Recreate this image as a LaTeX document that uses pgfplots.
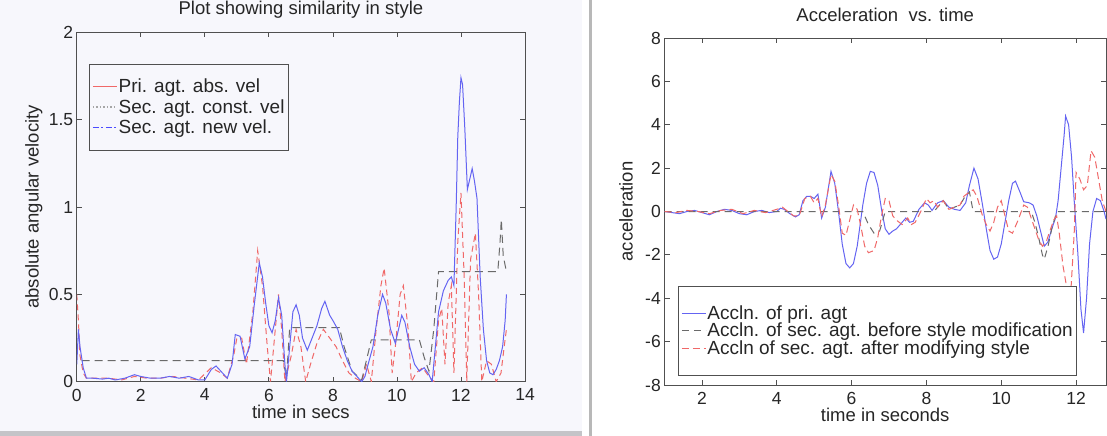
\documentclass[border=0pt]{standalone}
\usepackage{fontspec}
\setmainfont{Liberation Sans}
\usepackage{pgfplots}
\pgfplotsset{compat=1.18}
\definecolor{bgL}{HTML}{F7F7FC}
\definecolor{bandgray}{HTML}{C4C4C8}
\definecolor{divgray}{HTML}{B8B8B8}
\definecolor{axgray}{HTML}{505050}
\definecolor{bluel}{HTML}{6464F2}
\definecolor{redl}{HTML}{F06868}
\definecolor{grayl}{HTML}{6A6A6A}

\pgfplotstableread{
t v
0.00 0.10
0.05 0.30
0.10 0.20
0.20 0.08
0.30 0.02
0.50 0.02
0.80 0.015
1.00 0.02
1.20 0.01
1.50 0.02
1.80 0.04
2.00 0.03
2.30 0.02
2.60 0.02
2.90 0.03
3.20 0.02
3.50 0.03
3.80 0.01
4.00 0.01
4.20 0.07
4.35 0.09
4.50 0.06
4.70 0.02
4.85 0.10
4.95 0.27
5.10 0.26
5.25 0.13
5.40 0.20
5.55 0.45
5.70 0.68
5.80 0.60
5.90 0.45
6.00 0.32
6.10 0.28
6.20 0.35
6.30 0.48
6.40 0.38
6.50 0.10
6.55 0.00
6.65 0.20
6.75 0.40
6.85 0.44
6.95 0.38
7.05 0.25
7.20 0.18
7.35 0.25
7.50 0.32
7.65 0.42
7.75 0.46
7.90 0.38
8.00 0.35
8.15 0.30
8.30 0.20
8.45 0.12
8.60 0.06
8.75 0.03
8.90 0.00
9.00 0.03
9.10 0.10
9.25 0.20
9.40 0.38
9.55 0.50
9.65 0.45
9.80 0.30
9.95 0.22
10.05 0.30
10.15 0.38
10.25 0.34
10.40 0.20
10.55 0.10
10.70 0.06
10.85 0.08
11.00 0.04
11.10 0.00
11.20 0.20
11.30 0.40
11.45 0.52
11.60 0.58
11.70 0.60
11.78 0.55
11.85 1.00
11.90 1.40
11.95 1.60
12.00 1.74
12.05 1.70
12.12 1.45
12.20 1.10
12.30 1.18
12.35 1.22
12.42 1.15
12.50 1.05
12.60 0.60
12.70 0.30
12.80 0.12
12.90 0.05
13.00 0.04
13.10 0.07
13.20 0.12
13.30 0.20
13.38 0.35
13.42 0.50
}\velblue

\pgfplotstableread{
t v
0.00 0.50
0.05 0.35
0.10 0.15
0.20 0.05
0.30 0.02
0.60 0.02
1.00 0.02
1.40 0.01
1.80 0.03
2.20 0.02
2.60 0.02
3.00 0.03
3.40 0.02
3.80 0.01
4.20 0.08
4.50 0.05
4.70 0.02
4.90 0.15
5.00 0.25
5.15 0.25
5.30 0.10
5.50 0.40
5.65 0.75
5.80 0.55
5.95 0.20
6.05 0.00
6.15 0.20
6.30 0.50
6.40 0.30
6.50 0.00
6.70 0.15
6.85 0.30
7.00 0.20
7.15 0.00
7.30 0.10
7.50 0.22
7.70 0.30
7.90 0.25
8.10 0.20
8.30 0.12
8.50 0.05
8.70 0.02
8.90 0.00
9.05 0.10
9.20 0.00
9.35 0.30
9.50 0.55
9.60 0.65
9.75 0.40
9.85 0.05
9.95 0.20
10.10 0.50
10.20 0.55
10.35 0.30
10.45 0.00
10.60 0.05
10.80 0.08
11.00 0.03
11.15 0.00
11.30 0.35
11.40 0.42
11.50 0.10
11.60 0.45
11.70 0.55
11.78 0.05
11.90 0.80
12.00 1.08
12.10 0.60
12.18 0.00
12.30 0.70
12.45 0.85
12.55 0.50
12.65 0.00
12.80 0.12
12.95 0.10
13.10 0.00
13.25 0.05
13.35 0.20
13.42 0.30
}\velred

\pgfplotstableread{
t v
0.15 0.12
6.45 0.12
6.55 0.02
6.65 0.31
8.20 0.31
8.35 0.20
8.60 0.06
8.90 0.01
9.20 0.24
10.70 0.24
10.85 0.14
11.00 0.06
11.15 0.30
11.30 0.63
13.15 0.63
13.22 0.80
13.26 0.93
13.32 0.72
13.42 0.63
}\velconst

\pgfplotstableread{
t v
1.00 0.00
1.20 -0.05
1.40 -0.10
1.60 0.00
1.80 0.05
2.00 -0.05
2.20 -0.15
2.40 0.00
2.60 0.10
2.80 0.05
3.00 -0.10
3.20 -0.15
3.40 0.00
3.60 0.05
3.80 -0.05
4.00 0.00
4.10 0.15
4.20 0.10
4.35 -0.10
4.50 -0.25
4.60 -0.15
4.70 0.50
4.80 0.70
4.90 0.70
5.00 0.60
5.10 0.80
5.20 -0.30
5.30 0.20
5.45 1.85
5.55 1.30
5.65 0.00
5.75 -1.50
5.85 -2.40
5.95 -2.60
6.05 -2.40
6.15 -1.60
6.30 0.30
6.40 1.30
6.50 1.85
6.60 1.80
6.70 1.20
6.80 0.10
6.90 -0.80
7.00 -1.05
7.10 -0.90
7.20 -0.80
7.35 -0.50
7.45 -0.30
7.55 -0.50
7.65 -0.45
7.80 0.10
7.95 0.40
8.05 0.30
8.15 0.05
8.30 0.40
8.45 0.50
8.60 0.20
8.75 0.10
8.90 0.05
9.05 0.40
9.15 1.20
9.27 2.00
9.38 1.50
9.50 0.30
9.60 -0.80
9.70 -1.80
9.80 -2.20
9.90 -2.10
10.00 -1.50
10.10 -0.50
10.20 0.50
10.30 1.30
10.38 1.40
10.50 0.90
10.60 0.45
10.75 0.40
10.85 0.30
10.95 -0.20
11.05 -0.90
11.15 -1.60
11.25 -1.40
11.35 -0.80
11.45 -0.30
11.52 0.50
11.60 2.00
11.68 3.50
11.72 4.40
11.80 4.00
11.88 2.50
11.95 0.50
12.05 -2.00
12.13 -4.50
12.20 -5.60
12.28 -4.00
12.36 -1.50
12.45 0.00
12.55 0.60
12.65 0.50
12.75 0.00
12.80 -0.35
}\accblue

\pgfplotstableread{
t v
1.00 0.00
1.30 -0.05
1.60 0.05
1.90 0.00
2.20 -0.10
2.50 0.05
2.80 0.10
3.10 -0.10
3.40 0.05
3.70 -0.05
4.00 0.10
4.15 0.20
4.30 0.00
4.45 -0.20
4.60 -0.20
4.75 0.60
4.90 0.70
5.00 0.40
5.10 0.60
5.20 -0.25
5.30 0.30
5.45 1.70
5.55 1.40
5.65 0.30
5.75 -1.00
5.85 -1.10
5.95 -0.40
6.05 0.30
6.15 0.10
6.25 -0.70
6.35 -1.60
6.45 -1.90
6.60 -1.80
6.70 -1.20
6.80 -0.20
6.90 0.60
7.00 0.50
7.10 -0.20
7.20 -0.40
7.35 -0.60
7.50 -0.30
7.60 -0.60
7.70 -0.50
7.85 0.00
8.00 0.60
8.10 0.40
8.20 0.50
8.30 0.20
8.45 0.50
8.60 0.10
8.75 0.20
8.90 0.30
9.00 0.70
9.15 0.90
9.25 1.00
9.35 0.70
9.50 -0.20
9.60 -0.60
9.70 -0.90
9.80 -0.50
9.90 0.20
10.00 0.50
10.10 -0.20
10.20 -0.90
10.30 -1.00
10.45 -0.40
10.60 0.30
10.70 0.20
10.80 -0.30
10.90 -0.80
11.00 -1.30
11.10 -1.60
11.20 -1.40
11.30 -0.90
11.40 -0.40
11.48 -0.20
11.55 -1.00
11.65 -2.50
11.75 -3.50
11.85 -4.00
11.95 -1.00
12.00 1.80
12.10 1.50
12.20 1.00
12.30 1.20
12.40 2.80
12.50 2.50
12.60 1.50
12.70 0.50
12.80 0.00
}\accred

\pgfplotstableread{
t v
1.00 0.00
6.30 0.00
6.45 -0.60
6.60 -1.00
6.75 -0.90
6.90 0.00
8.20 0.00
8.30 0.20
8.45 0.50
8.60 0.10
8.75 0.20
8.90 0.30
9.00 0.60
9.15 0.90
9.25 0.00
10.80 0.00
10.90 -0.50
11.00 -1.20
11.10 -2.00
11.15 -2.20
11.25 -1.60
11.35 -0.80
11.45 -0.20
11.50 0.00
12.80 0.00
}\accgray

\pgfplotsset{
  matlab/.style={
    scale only axis,
    anchor=south west,
    axis line style={axgray, line width=0.8bp},
    every tick/.style={axgray, line width=0.8bp},
    major tick length=5bp,
    tick align=inside,
    xticklabel pos=bottom, yticklabel pos=left,
    xtick pos=both, ytick pos=both,
    /pgf/number format/assume math mode=true,
    tick label style={font=\fontsize{17.5bp}{20bp}\selectfont, text=black!85},
    xticklabel style={inner ysep=7bp},
    yticklabel style={inner xsep=3.5bp},
    label style={font=\fontsize{18.5bp}{21bp}\selectfont, text=black!85},
    every axis title shift=0pt,
    title style={font=\fontsize{18.5bp}{21bp}\selectfont, text=black!85, at={(0.5,1)}, anchor=center},
    legend cell align=left,
    legend style={font=\fontsize{19bp}{21bp}\selectfont, text=black!85, draw=axgray, line width=0.8bp,
      inner xsep=3bp, nodes={inner sep=1bp}},
    legend image code/.code={\draw (0bp,0bp) -- (24bp,0bp);},
  }
}

\begin{document}
\begin{tikzpicture}
\fill[white] (0bp,0bp) rectangle (1107bp,436bp);
\fill[bgL] (0bp,0bp) rectangle (582bp,436bp);
\fill[bandgray] (0bp,0bp) rectangle (582bp,5bp);
\fill[divgray] (589bp,0bp) rectangle (591.5bp,436bp);
\path[use as bounding box] (0bp,0bp) rectangle (1107bp,436bp);

\begin{axis}[matlab,
  at={(76.8bp,54.3bp)}, width=448.2bp, height=349.4bp,
  xmin=0, xmax=14, ymin=0, ymax=2,
  xtick={0,2,...,14}, ytick={0,0.5,1,1.5,2},
  title={Plot showing similarity in style},
  title style={yshift=22.8bp},
  xlabel={time in secs},
  xlabel style={at={(axis description cs:0.5,-0.087)}, anchor=center},
  ylabel={absolute angular velocity},
  ylabel style={at={(axis description cs:-0.096,0.5)}, anchor=center, rotate=0},
  legend style={at={(0.027,0.91)}, anchor=north west, fill=bgL, inner ysep=14bp, row sep=3bp},
]
\addplot[redl, line width=1bp, dash pattern=on 6bp off 4bp, legend image post style={redl, solid}] table[x=t,y=v] {\velred};
\addlegendentry{Pri. agt. abs. vel}
\addplot[grayl, line width=1bp, dash pattern=on 8bp off 5bp, legend image post style={gray!70, line width=1.2bp, dash pattern=on 1.5bp off 2bp}] table[x=t,y=v] {\velconst};
\addlegendentry{Sec. agt. const. vel}
\addplot[bluel, line width=1bp, legend image post style={blue!70, line width=1.4bp, dash pattern=on 6bp off 2.5bp on 2bp off 2.5bp}] table[x=t,y=v] {\velblue};
\addlegendentry{Sec. agt. new vel.}
\end{axis}

\begin{axis}[matlab,
  at={(664.5bp,51bp)}, width=441.5bp, height=347bp,
  xmin=1, xmax=12.8, ymin=-8, ymax=8,
  xtick={2,4,...,12}, ytick={-8,-6,...,8},
  title={Acceleration\ \ vs. time},
  title style={yshift=23bp},
  xlabel={time in seconds},
  xlabel style={at={(axis description cs:0.5,-0.085)}, anchor=center},
  ylabel={acceleration},
  ylabel style={at={(axis description cs:-0.087,0.5)}, anchor=center, rotate=0},
  legend style={at={(0.0306,0.2853)}, anchor=north west, fill=white, inner ysep=18bp, row sep=0.5bp},
]
\addplot[bluel, line width=1bp] table[x=t,y=v] {\accblue};
\addlegendentry{Accln. of pri. agt}
\addplot[grayl, line width=1bp, dash pattern=on 7bp off 5bp] table[x=t,y=v] {\accgray};
\addlegendentry{Accln. of sec. agt. before style modification}
\addplot[redl, line width=1bp, dash pattern=on 7bp off 4bp] table[x=t,y=v] {\accred};
\addlegendentry{Accln of sec. agt. after modifying style}
\end{axis}
\end{tikzpicture}
\end{document}
